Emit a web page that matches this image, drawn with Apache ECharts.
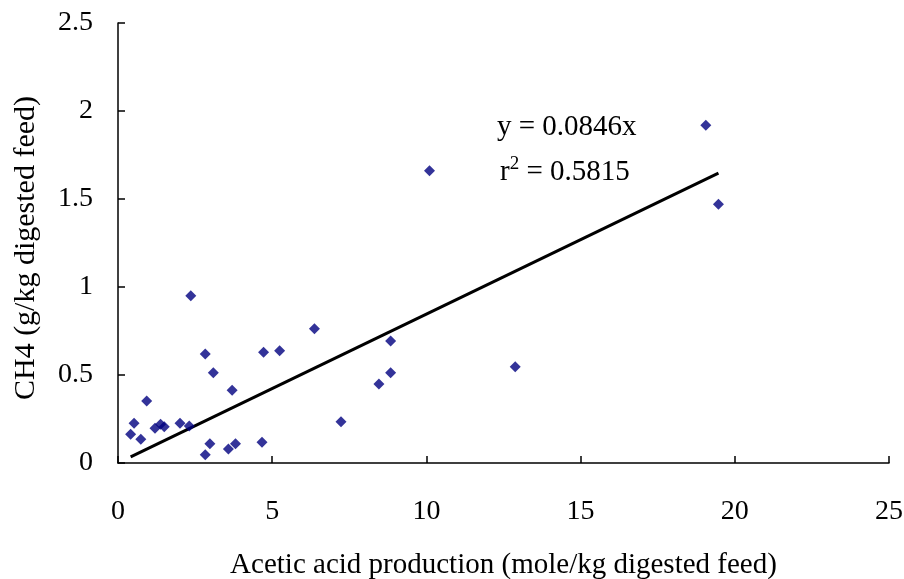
<!DOCTYPE html>
<html>
<head>
<meta charset="utf-8">
<script src="https://cdn.jsdelivr.net/npm/echarts@6/dist/echarts.min.js"></script>
<style>
html,body{margin:0;padding:0;background:#fff;}
#chart{width:904px;height:579px;}
</style>
</head>
<body>
<div id="chart"></div>
<script>
// Data
const aceticX = [0.41,0.52,0.74,0.93,1.20,1.38,1.50,2.01,2.31,2.36,2.83,2.83,2.98,3.09,3.58,3.70,3.81,4.67,4.72,5.24,6.37,7.23,8.46,8.84,8.84,10.10,12.88,19.06,19.47];
const ch4Y    = [0.163,0.226,0.135,0.352,0.197,0.220,0.206,0.226,0.210,0.950,0.619,0.047,0.110,0.513,0.080,0.413,0.110,0.118,0.629,0.638,0.763,0.235,0.449,0.693,0.513,1.661,0.547,1.919,1.470];
const slope = 0.0846;
const r2 = '0.5815';
const trendX = [0.41, 19.47];
const xTicks = [0,5,10,15,20,25];
const yTicks = [0,0.5,1,1.5,2,2.5];

const points = aceticX.map((x,i)=>[x, ch4Y[i]]);
const trend = trendX.map(x=>[x, slope*x]);
const FONT = '"Liberation Serif","Times New Roman",serif';

const chart = echarts.init(document.getElementById('chart'), null, {renderer:'canvas'});
chart.setOption({
  backgroundColor:'#fff',
  animation:false,
  grid:{left:118,right:15,top:23,bottom:116,containLabel:false,outerBoundsMode:'none'},
  xAxis:{
    type:'value',min:0,max:25,interval:5,
    name:'Acetic acid production (mole/kg digested feed)',
    nameLocation:'middle',nameGap:88,
    nameTextStyle:{fontFamily:FONT,fontSize:29,color:'#000'},
    axisLine:{show:true,onZero:false,lineStyle:{color:'#000',width:1.5}},
    axisTick:{show:true,inside:true,length:7,lineStyle:{color:'#000',width:1.5}},
    axisLabel:{fontFamily:FONT,fontSize:28,color:'#000',margin:35,formatter:v=>xTicks.includes(v)?String(v):''},
    splitLine:{show:false}
  },
  yAxis:{
    type:'value',min:0,max:2.5,interval:0.5,
    name:'CH4 (g/kg digested feed)',
    nameLocation:'middle',nameGap:77,
    nameTextStyle:{fontFamily:FONT,fontSize:30,color:'#000',padding:[0,10,0,0]},
    axisLine:{show:true,onZero:false,lineStyle:{color:'#000',width:1.5}},
    axisTick:{show:true,inside:true,length:7,lineStyle:{color:'#000',width:1.5}},
    axisLabel:{fontFamily:FONT,fontSize:28,color:'#000',margin:25,formatter:v=>yTicks.includes(v)?String(v):''},
    splitLine:{show:false}
  },
  series:[
    {type:'scatter',data:points,symbol:'diamond',symbolSize:11,itemStyle:{color:'#000080'},z:3},
    {type:'line',data:trend,symbol:'none',lineStyle:{color:'#000',width:3},z:2}
  ],
  graphic:[
    {type:'text',left:497,top:113,style:{text:'y = ' + slope + 'x',font:'29px '+FONT,fill:'#000'}},
    {type:'text',left:500,top:155,style:{
      text:'{b|r}{s|2}{b| = ' + r2 + '}',
      rich:{
        b:{fontFamily:FONT,fontSize:29,fill:'#000',color:'#000',lineHeight:34},
        s:{fontFamily:FONT,fontSize:19,fill:'#000',color:'#000',verticalAlign:'top',lineHeight:20}
      }
    }}
  ]
});
</script>
</body>
</html>
